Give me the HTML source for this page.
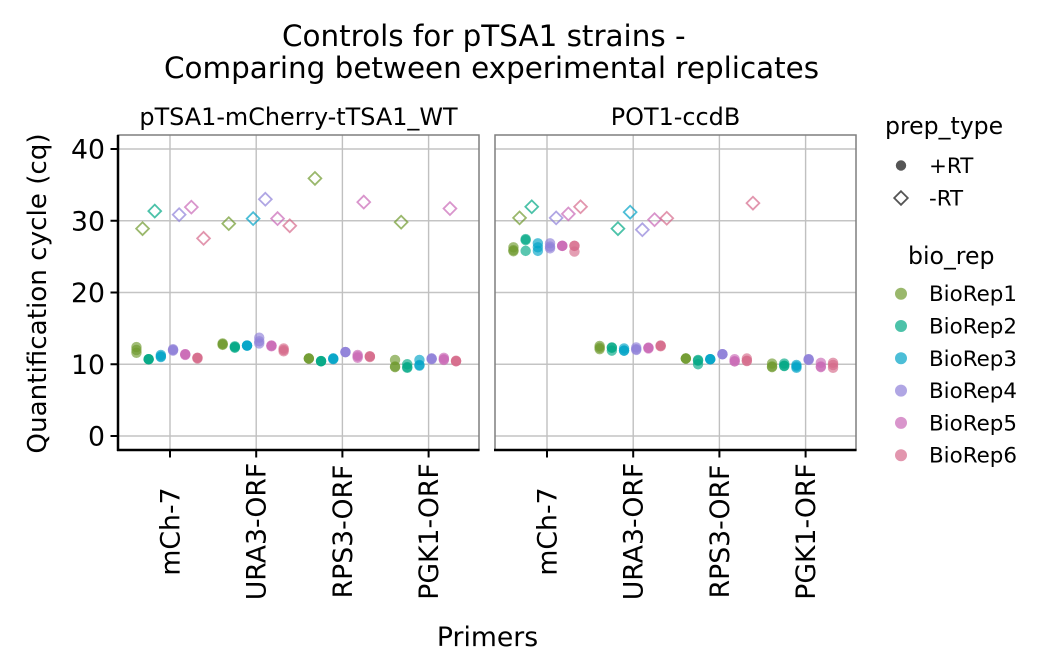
<!DOCTYPE html>
<html>
<head>
<meta charset="utf-8">
<style>
html,body{margin:0;padding:0;background:#fff;}
svg{display:block;}
text{font-family:"DejaVu Sans","Liberation Sans",sans-serif;fill:#000;}
</style>
</head>
<body>
<svg id="chart" xmlns="http://www.w3.org/2000/svg" width="1056" height="672" viewBox="0 0 1056 672">
<rect width="1056" height="672" fill="#fff"/>
<text x="282" y="46" font-size="29.4">Controls for pTSA1 strains -</text>
<text x="164" y="78" font-size="29.4">Comparing between experimental replicates</text>
<text transform="translate(46,293.5) rotate(-90)" text-anchor="middle" font-size="26.2">Quantification cycle (cq)</text>
<text x="487.5" y="646" text-anchor="middle" font-size="26.7">Primers</text>
<g id="panels"></g>
<g>
  <text x="885" y="134" font-size="23.6">prep_type</text>
  <circle cx="901" cy="165.5" r="5.2" fill="#555"/>
  <text x="929" y="173" font-size="21.4">+RT</text>
  <path d="M901 191.2L907.8 198L901 204.8L894.2 198Z" fill="none" stroke="#555" stroke-width="1.8"/>
  <text x="929" y="205.5" font-size="21.4">-RT</text>
</g>
<g id="rep-legend">
  <text x="908" y="264" font-size="23.6">bio_rep</text>
</g>
</svg>
<script>
const primers = ["mCh-7", "URA3-ORF", "RPS3-ORF", "PGK1-ORF"];
const bioReps = ["BioRep1", "BioRep2", "BioRep3", "BioRep4", "BioRep5", "BioRep6"];
const yTicks = [0, 10, 20, 30, 40];
const panelTitles = ["pTSA1-mCherry-tTSA1_WT", "POT1-ccdB"];
const repColors = ["#6f9a2e", "#00a884", "#00a3c6", "#8f80d8", "#c968b6", "#d66a8b"];

// Values: [primer][bio rep] -> list of replicate cq values
const wtPlusRT = [
  [[12.4, 12.0, 11.6], [10.7, 10.7, 10.7], [11.3, 11.1, 11.0], [12.1, 12.0, 11.9], [11.4, 11.4, 11.3], [10.9, 10.9, 10.8]],
  [[12.9, 12.8, 12.7], [12.5, 12.4, 12.3], [12.6, 12.6, 12.6], [13.7, 13.2, 12.9], [12.6, 12.6, 12.5], [12.2, 12.0, 11.8]],
  [[10.8, 10.8, 10.8], [10.45, 10.45, 10.4], [10.8, 10.8, 10.7], [11.7, 11.7, 11.7], [11.3, 11.1, 10.9], [11.1, 11.1, 11.0]],
  [[10.6, 9.7, 9.6], [10.0, 9.6, 9.5], [10.6, 9.9, 9.8], [10.8, 10.8, 10.7], [10.9, 10.7, 10.6], [10.5, 10.45, 10.4]]
];
const wtMinusRT = [
  [[28.9], [31.35], [], [30.85], [31.9], [27.55]],
  [[29.6], [], [30.3], [33.0], [30.3], [29.3]],
  [[35.9], [], [], [], [32.6], []],
  [[29.8], [], [], [], [31.7], []]
];
const potPlusRT = [
  [[26.3, 25.9, 25.75], [27.45, 27.3, 25.8], [26.85, 26.3, 25.8], [26.85, 26.4, 26.15], [26.5, 26.5, 26.5], [26.5, 26.5, 25.7]],
  [[12.55, 12.3, 12.1], [12.35, 12.3, 11.9], [12.2, 11.9, 11.9], [12.35, 12.1, 12.0], [12.3, 12.3, 12.2], [12.6, 12.6, 12.5]],
  [[10.8, 10.8, 10.8], [10.6, 10.5, 10.0], [10.7, 10.7, 10.7], [11.4, 11.4, 11.4], [10.7, 10.4, 10.4], [10.8, 10.5, 10.45]],
  [[10.1, 9.7, 9.6], [10.1, 9.8, 9.75], [9.9, 9.7, 9.5], [10.7, 10.7, 10.6], [10.2, 9.7, 9.6], [10.2, 9.9, 9.5]]
];
const potMinusRT = [
  [[30.4], [31.95], [], [30.4], [30.95], [31.95]],
  [[], [28.9], [31.2], [28.75], [30.15], [30.35]],
  [[], [], [], [], [], [32.45]],
  [[], [], [], [], [], []]
];
const panelPlus = [wtPlusRT, potPlusRT];
const panelMinus = [wtMinusRT, potMinusRT];

const NS = "http://www.w3.org/2000/svg";
const panelLeft = [118, 495];
const panelWidth = 361;
const plotTop = 135;
const plotBottom = 450;
const firstCat = 52;
const catStep = 86.2;
const dodgeStep = 6.1;

function yScale(v) { return 436 - v * 7.175; }
function xCat(panel, primerIdx) { return panelLeft[panel] + firstCat + primerIdx * catStep; }
function xDodge(panel, primerIdx, repIdx, prepIdx) {
  return xCat(panel, primerIdx) + (repIdx * 2 + prepIdx - 5.5) * dodgeStep;
}
function make(tag, attrs, parent, txt) {
  const el = document.createElementNS(NS, tag);
  for (const k in attrs) el.setAttribute(k, attrs[k]);
  if (txt !== undefined) el.textContent = txt;
  parent.appendChild(el);
  return el;
}

const root = document.getElementById("panels");
panelTitles.forEach(function (title, p) {
  const L = panelLeft[p], R = L + panelWidth;
  const g = make("g", {}, root);
  
  

  const strip = make("text", { x: L + panelWidth / 2 + (p === 0 ? 0 : 0), y: 125, "text-anchor": "middle", "font-size": 23.9 }, g, title);
  
  

  yTicks.forEach(function (t) {
    const gl = make("line", { x1: L, x2: R, y1: yScale(t), y2: yScale(t), stroke: "#c4c4c4", "stroke-width": 1.4 }, g);
    
    
  });
  primers.forEach(function (name, i) {
    const x = xCat(p, i);
    const gl = make("line", { x1: x, x2: x, y1: plotTop, y2: plotBottom, stroke: "#c0c0c0", "stroke-width": 1.4 }, g);
    
    
  });

  const border = make("rect", { x: L, y: plotTop, width: panelWidth, height: plotBottom - plotTop, fill: "none", stroke: "#7f7f7f", "stroke-width": 1.5 }, g);
  
  

  primers.forEach(function (name, i) {
    bioReps.forEach(function (rep, r) {
      panelPlus[p][i][r].forEach(function (v) {
        const c = make("circle", { cx: xDodge(p, i, r, 0), cy: yScale(v), r: 5.2, fill: repColors[r], "fill-opacity": 0.65 }, g);
        
        
      });
      panelMinus[p][i][r].forEach(function (v) {
        const x = xDodge(p, i, r, 1), y = yScale(v), s = 6.4;
        const d = make("path", { d: "M" + x + " " + (y - s) + "L" + (x + s) + " " + y + "L" + x + " " + (y + s) + "L" + (x - s) + " " + y + "Z", fill: "none", stroke: repColors[r], "stroke-opacity": 0.7, "stroke-width": 1.8 }, g);
        
        
      });
    });
  });

  const xAxis = make("line", { x1: L - 1, x2: R + 0.5, y1: plotBottom, y2: plotBottom, stroke: "#000", "stroke-width": 2.5 }, g);
  
  

  primers.forEach(function (name, i) {
    const x = xCat(p, i);
    const tick = make("line", { x1: x, x2: x, y1: plotBottom, y2: plotBottom + 7.5, stroke: "#000", "stroke-width": 2 }, g);
    
    
    const lab = make("text", { transform: "translate(" + (x + 9.5) + ",531.5) rotate(-90)", "text-anchor": "middle", "font-size": 26.7 }, g, name);
    
    
  });

  if (p === 0) {
    const yAxis = make("line", { x1: L, x2: L, y1: plotTop, y2: plotBottom + 1, stroke: "#000", "stroke-width": 2.5 }, g);
    
    
    yTicks.forEach(function (t) {
      const tick = make("line", { x1: L - 7.5, x2: L, y1: yScale(t), y2: yScale(t), stroke: "#000", "stroke-width": 2 }, g);
      
      
      const lab = make("text", { x: 105, y: yScale(t) + 9.7, "text-anchor": "end", "font-size": 26.7 }, g, String(t));
      
      
    });
  }
});

const legend = document.getElementById("rep-legend");
bioReps.forEach(function (rep, r) {
  const y = 293.7 + r * 32.3;
  const dot = make("circle", { cx: 901, cy: y, r: 6, fill: repColors[r], "fill-opacity": 0.7 }, legend);
  
  
  const lab = make("text", { x: 929, y: y + 7.5, "font-size": 21.4 }, legend, rep);
  
  
});
</script>
</body>
</html>
